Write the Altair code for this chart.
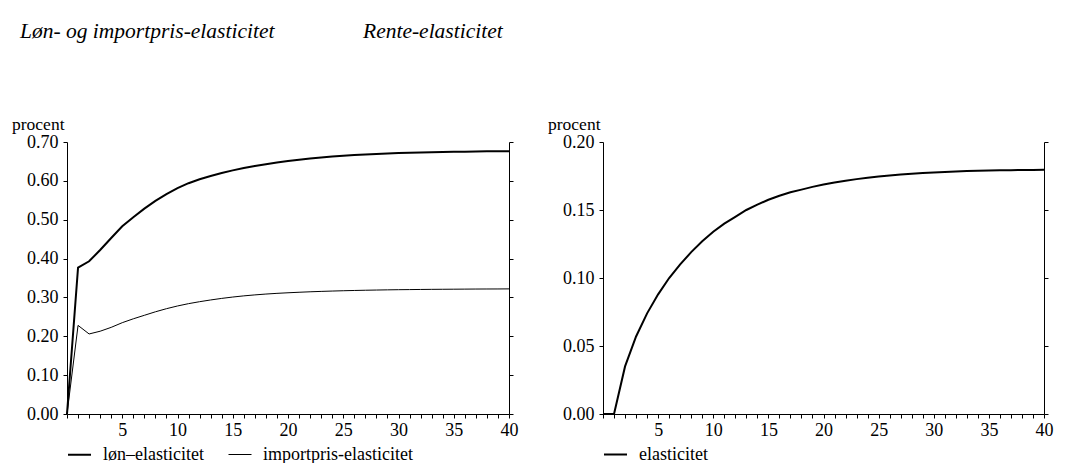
import altair as alt
import pandas as pd

periods = list(range(0, 41))

lon_elasticitet = [0.000, 0.377, 0.393, 0.422, 0.453, 0.483, 0.5065, 0.5285, 0.5485, 0.566, 0.5815,
                   0.594, 0.604, 0.6125, 0.620, 0.627, 0.633, 0.638, 0.643, 0.647, 0.651,
                   0.6545, 0.6575, 0.660, 0.6625, 0.6645, 0.6663, 0.668, 0.6693, 0.6705, 0.6715,
                   0.6723, 0.673, 0.6737, 0.6743, 0.6748, 0.6752, 0.6756, 0.6759, 0.6762, 0.6764]

importpris_elasticitet = [0.000, 0.228, 0.206, 0.213, 0.223, 0.235, 0.245, 0.254, 0.263, 0.271, 0.278,
                          0.284, 0.289, 0.2935, 0.2975, 0.301, 0.304, 0.3065, 0.3087, 0.3105, 0.312,
                          0.3133, 0.3145, 0.3155, 0.3164, 0.3172, 0.3179, 0.3185, 0.319, 0.3195, 0.3199,
                          0.3202, 0.3205, 0.3208, 0.321, 0.3212, 0.3214, 0.3216, 0.3217, 0.3218, 0.322]

rente_elasticitet = [0.000, 0.000, 0.035, 0.057, 0.074, 0.088, 0.100, 0.110, 0.119, 0.127, 0.134,
                     0.140, 0.145, 0.150, 0.154, 0.1575, 0.1605, 0.163, 0.165, 0.167, 0.1687,
                     0.1702, 0.1715, 0.1727, 0.1737, 0.1746, 0.1754, 0.1761, 0.1767, 0.1772, 0.1776,
                     0.178, 0.1783, 0.1786, 0.1788, 0.179, 0.1792, 0.1793, 0.1794, 0.1795, 0.1796]

left_series = ["løn–elasticitet", "importpris-elasticitet"]
right_series = ["elasticitet"]
left_ticks = [0.0, 0.1, 0.2, 0.3, 0.4, 0.5, 0.6, 0.7]
right_ticks = [0.0, 0.05, 0.10, 0.15, 0.20]

left_df = pd.concat([
    pd.DataFrame({"t": periods, "value": lon_elasticitet, "series": left_series[0]}),
    pd.DataFrame({"t": periods, "value": importpris_elasticitet, "series": left_series[1]}),
])
right_df = pd.DataFrame({"t": periods, "value": rente_elasticitet, "series": right_series[0]})

SERIF = "Liberation Serif"
W, H = 442, 272
LEG_Y = 300


def x_enc():
    return alt.X("t:Q",
                 scale=alt.Scale(domain=[0, 40], nice=False, zero=False),
                 axis=alt.Axis(values=periods,
                               labelExpr="datum.value % 5 == 0 && datum.value > 0 ? datum.label : ''",
                               tickSize=4, grid=False, title=None, labelPadding=3,
                               labelFontSize=18, labelFont=SERIF, labelColor="black",
                               domainColor="black", tickColor="black", labelFlush=False))


def y_enc(domain, ticks):
    return alt.Y("value:Q", scale=alt.Scale(domain=domain, nice=False, zero=True),
                 axis=alt.Axis(values=ticks, format=".2f", grid=False,
                               title="procent", titleAngle=0, titleAlign="right",
                               titleBaseline="alphabetic", titleX=-3, titleY=-13,
                               titleFont=SERIF, titleFontSize=17.5, titleFontWeight="normal",
                               titleColor="black", tickSize=4, labelPadding=5,
                               labelFont=SERIF, labelFontSize=18, labelColor="black",
                               domainColor="black", tickColor="black"))


def legend(width=None):
    kw = dict(orient="none", legendX=0, legendY=LEG_Y, direction="horizontal", title=None,
              symbolType="stroke", symbolSize=529, symbolStrokeColor="black",
              labelFont=SERIF, labelFontSize=18, labelColor="black", labelOffset=11,
              columnPadding=22)
    if width is not None:
        kw["symbolStrokeWidth"] = width
    return alt.Legend(**kw)


def right_axis_layer(df, domain, ticks):
    return alt.Chart(df).mark_line(opacity=0).encode(
        x=x_enc(),
        y=alt.Y("value:Q", scale=alt.Scale(domain=domain, nice=False, zero=True),
                axis=alt.Axis(orient="right", values=ticks, labels=False, title=None,
                              grid=False, tickSize=4, domainColor="black", tickColor="black")),
    )


def title(text, dx):
    return alt.Title(text, anchor="start", frame="group", dx=dx, font=SERIF, fontStyle="italic",
                     fontSize=21.5, fontWeight="normal", color="black", offset=73)


left_lines = alt.Chart(left_df).mark_line(color="black").encode(
    x=x_enc(),
    y=y_enc([0, 0.7], left_ticks),
    strokeWidth=alt.StrokeWidth("series:N",
                                scale=alt.Scale(domain=left_series, range=[2, 1]),
                                legend=legend()),
    detail="series:N",
)
left = alt.layer(left_lines, right_axis_layer(left_df, [0, 0.7], left_ticks)).resolve_scale(
    y="independent").properties(width=W, height=H,
                                title=title("Løn- og importpris-elasticitet", -47))

right_lines = alt.Chart(right_df).mark_line(strokeWidth=2).encode(
    x=x_enc(),
    y=y_enc([0, 0.2], right_ticks),
    color=alt.Color("series:N", scale=alt.Scale(domain=right_series, range=["black"]),
                    legend=legend(2)),
)
right = alt.layer(right_lines, right_axis_layer(right_df, [0, 0.2], right_ticks)).resolve_scale(
    y="independent").properties(width=W - 1, height=H,
                                title=title("Rente-elasticitet", -240))

chart = alt.hconcat(left, right, spacing=94, bounds="flush").resolve_scale(
    strokeWidth="independent", color="independent"
).resolve_legend(strokeWidth="independent", color="independent").properties(
    padding={"left": 3, "top": 12, "right": 5, "bottom": 5},
    background="white",
).configure_view(stroke=None)

chart.save("out.html", embed_options={"renderer": "svg", "actions": False})
